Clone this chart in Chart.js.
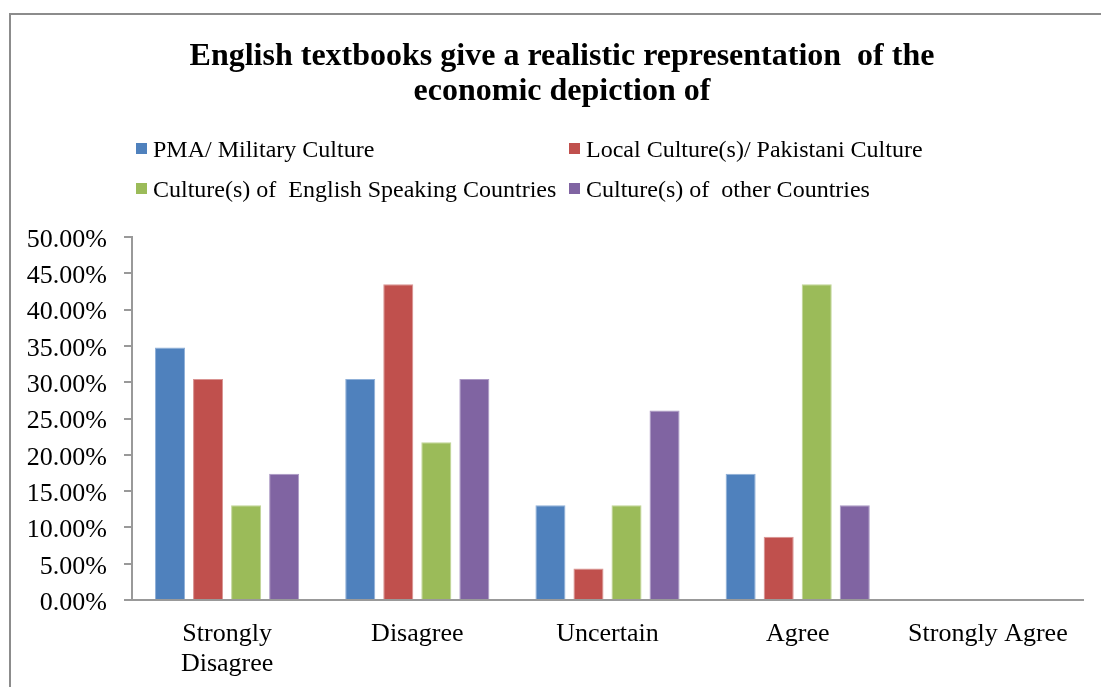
<!DOCTYPE html>
<html>
<head>
<meta charset="utf-8">
<script src="https://cdn.jsdelivr.net/npm/chart.js@4.4.1/dist/chart.umd.min.js"></script>
<style>
  html, body { margin: 0; padding: 0; background: #fff; overflow: hidden; }
  #wrap { position: relative; width: 1101px; height: 687px; }
  #frame { position: absolute; left: 9px; top: 13px; width: 1200px; height: 800px;
           border-left: 2px solid #8c8c8c; border-top: 2px solid #8c8c8c; pointer-events: none; }
  canvas { position: absolute; left: 0; top: 0; }
</style>
</head>
<body>
<div id="wrap">
  <canvas id="chart" width="1101" height="687"></canvas>
  <div id="frame"></div>
</div>
<script>
// Survey responses (percent of respondents)
const categories = [['Strongly', 'Disagree'], 'Disagree', 'Uncertain', 'Agree', 'Strongly Agree'];
const seriesNames = [
  'PMA/ Military Culture',
  'Local Culture(s)/ Pakistani Culture',
  'Culture(s) of  English Speaking Countries',
  'Culture(s) of  other Countries'
];
const pmaMilitary     = [34.78, 30.43, 13.04, 17.39, 0];
const localPakistani  = [30.43, 43.48,  4.35,  8.70, 0];
const englishSpeaking = [13.04, 21.74, 13.04, 43.48, 0];
const otherCountries  = [17.39, 30.43, 26.09, 13.04, 0];
const titleLines = ['English textbooks give a realistic representation  of the', 'economic depiction of'];
const yTicks = { min: 0, max: 50, step: 5 };

const colors = ['#4F81BD', '#C0504D', '#9BBB59', '#8064A2'];
const edgeColors = ['#8fb0d8', '#d99391', '#c0d596', '#ab98c4'];
const FONT = "'Liberation Serif', 'Times New Roman', serif";

// Title and two-column legend drawn above the plot area
const headerPlugin = {
  id: 'header',
  afterDraw(chart) {
    const ctx = chart.ctx;
    ctx.save();
    ctx.fillStyle = '#000';
    ctx.textAlign = 'center';
    ctx.textBaseline = 'alphabetic';
    ctx.font = 'bold 32px ' + FONT;
    ctx.fillText(titleLines[0], 562, 65);
    ctx.fillText(titleLines[1], 562, 100);

    ctx.font = '24px ' + FONT;
    ctx.textAlign = 'left';
    const cols = [136, 569];
    const rows = [157, 197];
    chart.data.datasets.forEach((ds, i) => {
      const x = cols[i % 2], y = rows[Math.floor(i / 2)];
      ctx.fillStyle = ds.backgroundColor;
      ctx.fillRect(x, y - 14, 11, 11);
      ctx.fillStyle = '#000';
      ctx.fillText(ds.label, x + 17, y);
    });
    ctx.restore();
  }
};

const seriesData = [pmaMilitary, localPakistani, englishSpeaking, otherCountries];

new Chart(document.getElementById('chart'), {
  type: 'bar',
  data: {
    labels: categories,
    datasets: seriesData.map((vals, i) => ({
      label: seriesNames[i],
      data: vals,
      backgroundColor: colors[i],
      borderColor: edgeColors[i],
      borderWidth: 1,
      categoryPercentage: 0.8,
      barPercentage: 0.79
    }))
  },
  options: {
    responsive: false,
    animation: false,
    layout: { padding: { top: 237, right: 18, bottom: 0, left: 0 } },
    plugins: {
      legend: { display: false },
      title: { display: false },
      tooltip: { enabled: true }
    },
    scales: {
      x: {
        afterFit(axis) { axis.height = 87; },
        grid: { display: false },
        border: { display: true, color: '#999', width: 2 },
        ticks: {
          color: '#000',
          padding: 11,
          font: { family: FONT, size: 26, lineHeight: 1.15 },
          maxRotation: 0
        }
      },
      y: {
        min: yTicks.min,
        max: yTicks.max,
        afterFit(axis) { axis.width = 132; },
        grid: { drawOnChartArea: false, drawTicks: true, tickLength: 8, color: '#999', lineWidth: 2 },
        border: { display: true, color: '#999', width: 2 },
        ticks: {
          stepSize: yTicks.step,
          color: '#000',
          padding: 17,
          labelOffset: 3,
          font: { family: FONT, size: 26 },
          callback: v => v.toFixed(2) + '%'
        }
      }
    }
  },
  plugins: [headerPlugin]
});
</script>
</body>
</html>
